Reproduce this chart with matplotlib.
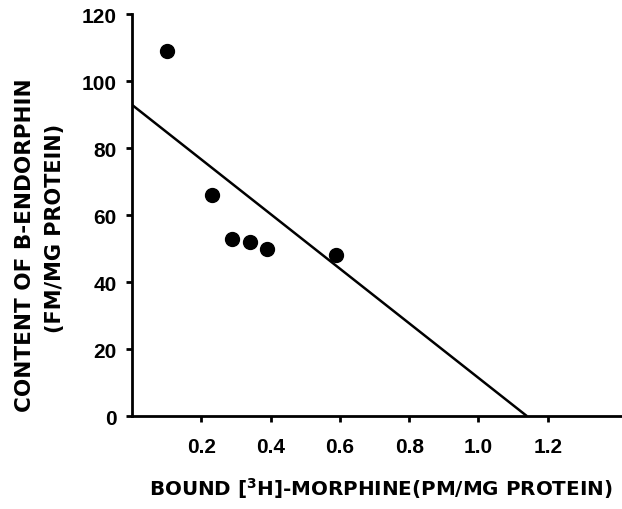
import matplotlib
matplotlib.use("Agg")
import matplotlib.pyplot as plt
from matplotlib import font_manager

# data
bound_morphine = [0.10, 0.23, 0.29, 0.34, 0.39, 0.59]
endorphin = [109, 66, 53, 52, 50, 48]

# fitted regression line (end points)
line_x = [0.0, 1.14]
line_y = [93, 0]

x_ticks = [0.2, 0.4, 0.6, 0.8, 1.0, 1.2]
x_ticklabels = ["0.2", "0.4", "0.6", "0.8", "1.0", "1.2"]
y_ticks = [0, 20, 40, 60, 80, 100, 120]
y_ticklabels = ["0", "20", "40", "60", "80", "100", "120"]

names = {f.name for f in font_manager.fontManager.ttflist}
tick_font = "Liberation Sans" if "Liberation Sans" in names else "DejaVu Sans"

fig = plt.figure(figsize=(6.22, 5.10), dpi=100)
ax = fig.add_axes([0.212, 0.182, 0.788, 0.788])

ax.plot(line_x, line_y, color="black", lw=1.8, solid_capstyle="butt")
ax.plot(bound_morphine, endorphin, "o", color="black", ms=10, clip_on=False)

ax.set_xlim(0, 1.414)
ax.set_ylim(0, 120)

for side in ("top", "right"):
    ax.spines[side].set_visible(False)
for side in ("left", "bottom"):
    ax.spines[side].set_linewidth(2.0)

ax.set_xticks(x_ticks)
ax.set_xticklabels(x_ticklabels)
ax.set_yticks(y_ticks)
ax.set_yticklabels(y_ticklabels)
ax.tick_params(axis="both", direction="out", length=4, width=2, pad=7)
ax.tick_params(axis="x", pad=11)
for lab in ax.get_xticklabels() + ax.get_yticklabels():
    lab.set_fontfamily(tick_font)
    lab.set_fontweight("bold")
    lab.set_fontsize(15)

fig.text(0.612, 0.043, r"BOUND [$^{\mathbf{3}}$H]-MORPHINE(PM/MG PROTEIN)",
         ha="center", va="center", fontsize=14.3, fontweight="bold")
fig.text(0.040, 0.52, "CONTENT OF B-ENDORPHIN", rotation=90,
         ha="center", va="center", fontsize=15.5, fontweight="bold")
fig.text(0.088, 0.553, "(FM/MG PROTEIN)", rotation=90,
         ha="center", va="center", fontsize=15, fontweight="bold")

fig.savefig("out.png", dpi=100)
